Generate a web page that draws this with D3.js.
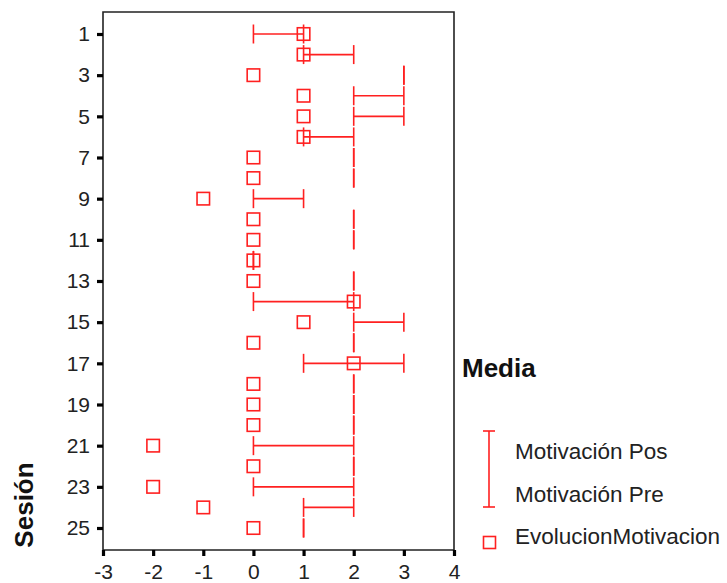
<!DOCTYPE html>
<html>
<head>
<meta charset="utf-8">
<script src="https://cdn.jsdelivr.net/npm/d3@7"></script>
<style>
  html, body { margin: 0; padding: 0; background: #fff; }
  svg { display: block; font-family: "Liberation Sans", Arial, sans-serif; }
</style>
</head>
<body>
<svg id="chart" width="727" height="583"></svg>
<script>
// ---- data ----
const sessions = [1,2,3,4,5,6,7,8,9,10,11,12,13,14,15,16,17,18,19,20,21,22,23,24,25];
const motivPre = [0,1,3,2,2,1,2,2,1,2,2,0,2,0,2,2,1,2,2,2,2,2,2,2,1];
const motivPos = [1,2,3,3,3,2,2,2,0,2,2,0,2,2,3,2,3,2,2,2,0,2,0,1,1];
const evolucion = [1,1,0,1,1,1,0,0,-1,0,0,0,0,2,1,0,2,0,0,0,-2,0,-2,-1,0];
const xTicks = [-3,-2,-1,0,1,2,3,4];
const yTicks = [1,3,5,7,9,11,13,15,17,19,21,23,25];
const legendLabels = ["Motivación Pos", "Motivación Pre", "EvolucionMotivacion"];

const red = "#ff2020";
const svg = d3.select("#chart");

const x = d3.scaleLinear().domain([-3, 4]).range([103, 454]);
const y = d3.scaleLinear().domain([1, 25]).range([34, 528]);
const plotTop = 12, plotBottom = 550;

// frame
svg.append("path")
  .attr("d", `M${x(-3)},${plotBottom} L${x(-3)},${plotTop} L${x(4)},${plotTop} L${x(4)},${plotBottom} Z`)
  .attr("fill", "none").attr("stroke", "#222").attr("stroke-width", 1.6);

// axes
const xAxis = svg.append("g").attr("transform", `translate(0,${plotBottom})`)
  .call(d3.axisBottom(x).tickValues(xTicks).tickSize(6).tickPadding(8).tickFormat(d => String(d)));
const yAxis = svg.append("g").attr("transform", `translate(${x(-3)},0)`)
  .call(d3.axisLeft(y).tickValues(yTicks).tickSize(6).tickPadding(7));
[xAxis, yAxis].forEach(g => {
  g.select(".domain").remove();
  g.selectAll(".tick line").attr("stroke", "#000").attr("stroke-width", 3.2);
  g.selectAll(".tick text").attr("fill", "#222").style("font-size", "21px")
    .style("font-family", "'Liberation Sans', Arial, sans-serif");
});
xAxis.selectAll(".tick text").attr("dy", "0.71em");

// axis title
svg.append("text")
  .attr("transform", `translate(33,505) rotate(-90)`)
  .attr("text-anchor", "middle")
  .attr("fill", "#111")
  .style("font-size", "26px").style("font-weight", "bold")
  .text("Sesión");

// range lines (Pre -> Pos) with caps
const capH = 9.5;
const rows = sessions.map((s, i) => ({ s, pre: motivPre[i], pos: motivPos[i], ev: evolucion[i] }));
const g = svg.append("g").attr("stroke", red).attr("stroke-width", 1.6).attr("fill", "none");
rows.forEach(r => {
  const yy = y(r.s);
  if (r.pre !== r.pos) {
    g.append("line").attr("x1", x(r.pre)).attr("x2", x(r.pos)).attr("y1", yy).attr("y2", yy);
  }
  [r.pre, r.pos].forEach(v => {
    g.append("line").attr("x1", x(v)).attr("x2", x(v)).attr("y1", yy - capH).attr("y2", yy + capH);
  });
});

// markers
const sq = 12.5;
svg.append("g").selectAll("rect").data(rows).join("rect")
  .attr("x", d => x(d.ev) - sq / 2).attr("y", d => y(d.s) - sq / 2)
  .attr("width", sq).attr("height", sq)
  .attr("fill", "none").attr("stroke", red).attr("stroke-width", 1.6);

// legend
const leg = svg.append("g");
leg.append("text").attr("x", 462).attr("y", 377)
  .attr("fill", "#111").style("font-size", "26px").style("font-weight", "bold").text("Media");
const lx = 489;
leg.append("line").attr("x1", lx).attr("x2", lx).attr("y1", 431).attr("y2", 507)
  .attr("stroke", red).attr("stroke-width", 1.6);
[431, 507].forEach(v => leg.append("line").attr("x1", lx - 6).attr("x2", lx + 6)
  .attr("y1", v).attr("y2", v).attr("stroke", red).attr("stroke-width", 1.6));
leg.append("rect").attr("x", 483.5).attr("y", 536.5).attr("width", 12).attr("height", 12)
  .attr("fill", "none").attr("stroke", red).attr("stroke-width", 1.6);
const legY = [459, 501.5, 544];
legendLabels.forEach((t, i) => leg.append("text").attr("x", 515).attr("y", legY[i])
  .attr("fill", "#222").style("font-size", "22.5px").text(t));
</script>
</body>
</html>
